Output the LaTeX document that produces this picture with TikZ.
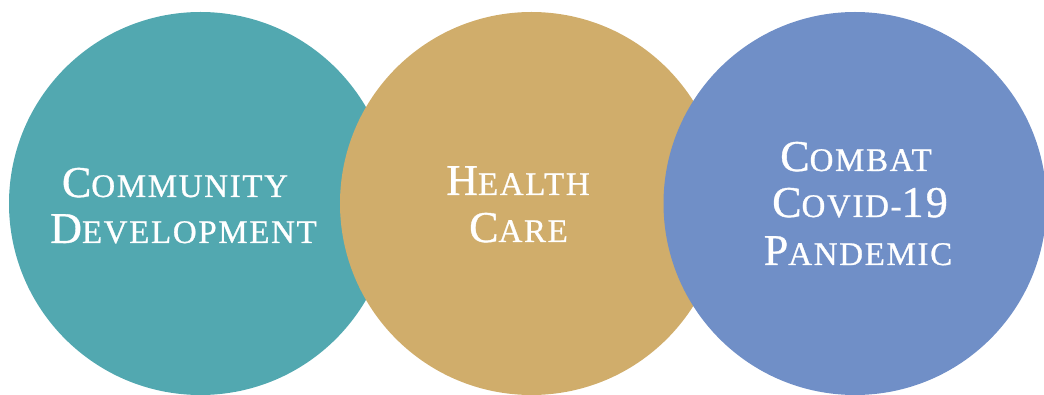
\documentclass[tikz,border=0pt]{standalone}
\usepackage{fontspec}
\newfontfamily\capfont[LetterSpace=5,FakeBold=0.8]{Liberation Serif}
\newcommand{\SC}[2]{{\fontsize{44}{46}\selectfont #1}{\fontsize{33}{46}\selectfont #2}}
\newcommand{\BG}[1]{{\fontsize{44}{46}\selectfont #1}}
\definecolor{tealc}{RGB}{82,168,176}
\definecolor{goldc}{RGB}{208,173,107}
\definecolor{bluec}{RGB}{112,143,199}
\tikzset{
  disc/.style={circle, minimum size=383pt, inner sep=0pt, draw=none},
  lbl/.style={anchor=base, text=white, inner sep=0pt, font=\capfont}
}
\begin{document}
\begin{tikzpicture}[x=1pt,y=-1pt]
\useasboundingbox (0,0) rectangle (1044,395);
\node[disc, fill=tealc] (c1) at (200.5,203.5) {};
\node[disc, fill=goldc] (c2) at (531.5,203.5) {};
\node[disc, fill=bluec] (c3) at (855,203.5) {};
\node[lbl] (t1a) at (175,197) {\SC{C}{OMMUNITY}};
\node[lbl] (t1b) at (183.5,243) {\SC{D}{EVELOPMENT}};
\node[lbl] (t2a) at (518,195) {\SC{H}{EALTH}};
\node[lbl] (t2b) at (518.5,242) {\SC{C}{ARE}};
\node[lbl] (t3a) at (856,171) {\SC{C}{OMBAT}};
\node[lbl] (t3b) at (860,217) {\SC{C}{OVID-}\BG{19}};
\node[lbl] (t3c) at (858,265) {\SC{P}{ANDEMIC}};
\end{tikzpicture}
\end{document}
